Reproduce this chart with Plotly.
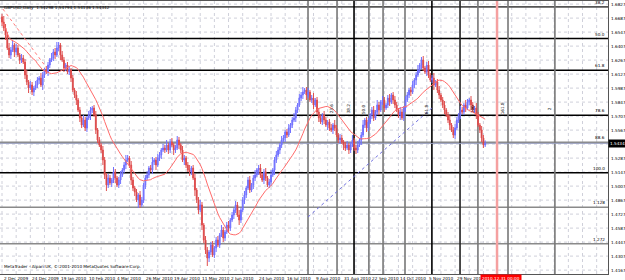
import plotly.graph_objects as go
import pandas as pd

header_text = "GBPUSD,Daily  1.54298 1.54794 1.54136 1.54342"
footer_text = "MetaTrader - Alpari UK, \u00a9 2001-2010 MetaQuotes Software Corp."

# daily closes in pips (price * 10000)
close_pips = [
    16648, 16588, 16518, 16388,
    16318, 16368, 16418, 16348, 16388,
    16318, 16268, 16288, 16248,
    16118, 16048, 15988, 16018, 15948, 15988,
    16018, 16068, 16088, 16018, 16118, 16168, 16148,
    16218, 16268, 16288, 16348, 16318, 16388, 16418,
    16318, 16268, 16188, 16218, 16148, 16168,
    16088, 15968, 15918, 15868, 15768, 15688,
    15618, 15668, 15588, 15688, 15718, 15768,
    15788, 15718, 15568, 15468, 15418,
    15368, 15268, 15118, 15018, 15088, 15038, 15068,
    15148, 15088, 15018, 15068, 15118, 15168, 15218, 15268,
    15288, 15218, 15068, 14988, 14948, 14868,
    14918, 14818, 14868, 15018, 15088,
    15118, 15188, 15168, 15248, 15268, 15218, 15288,
    15318, 15368, 15388, 15368, 15418, 15368, 15448,
    15418, 15368, 15388, 15468, 15418, 15368,
    15268, 15288, 15218, 15168, 15148, 15188, 15088,
    14968, 14868, 14768, 14818,
    14618, 14468, 14368, 14288, 14348, 14418,
    14318, 14388, 14468, 14418, 14518, 14568,
    14488, 14548, 14618, 14588, 14668, 14718, 14768,
    14818, 14718, 14668, 14768, 14868, 14918, 14988,
    15068, 14968, 15018, 15088, 15118, 15168,
    15188, 15118, 15068, 15148, 15088, 15018, 15048,
    15118, 15168, 15268, 15318, 15368, 15418,
    15468, 15488, 15548, 15518, 15588, 15618, 15668,
    15688, 15768, 15818, 15888, 15918, 15948,
    15968, 15918, 15948, 15868, 15888,
    15818, 15868, 15748, 15688, 15648, 15718,
    15668, 15618, 15648, 15588, 15568, 15618, 15588,
    15518, 15468, 15488, 15448, 15418, 15388, 15418,
    15368, 15418, 15468, 15388, 15368, 15418,
    15468, 15518, 15618, 15668, 15588, 15648,
    15718, 15768, 15688, 15748, 15818, 15768, 15848,
    15868, 15788, 15818, 15888, 15848, 15918, 15868,
    15818, 15768, 15718, 15748, 15688, 15788,
    15868, 15918, 15968, 15948, 16018, 16068,
    16118, 16168, 16218, 16268, 16188, 16148, 16218,
    16118, 16068, 16088, 16018, 16048, 15968,
    15918, 15868, 15818, 15768, 15718, 15668,
    15618, 15568, 15518, 15588, 15668,
    15718, 15768, 15748, 15818, 15788, 15848,
    15868, 15818, 15768, 15788, 15718,
    15618, 15568, 15488, 15418, 15434,
]
first_open_pips = 16700

# upper / lower wick lengths (units of 10 pips)
hi_wick = [
    3,6,4,3,5,3,4,2,4,3,2,4,3,3,5,2,4,3,2,4,
    3,2,5,3,2,4,3,2,5,3,4,6,3,2,4,3,2,3,4,2,
    3,2,4,2,3,2,5,3,2,4,3,2,3,4,2,3,2,4,3,2,
    4,3,2,5,3,2,3,4,2,3,5,3,2,4,3,2,3,2,4,3,
    2,3,4,2,3,5,2,3,4,3,2,4,3,5,2,3,4,2,3,4,
    3,2,4,3,2,3,5,2,3,4,2,3,5,3,2,4,3,2,3,4,
    2,3,4,2,5,3,2,3,4,2,3,2,4,3,5,2,3,4,2,3,
    4,2,3,5,2,3,4,2,3,4,2,3,5,2,3,4,3,2,4,3,
    2,3,4,2,3,5,3,2,4,3,5,2,3,4,2,3,5,2,3,4,
    3,2,4,3,2,3,4,2,5,3,2,4,3,2,3,4,2,3,5,2,
    3,4,2,3,5,2,3,4,2,3,4,2,5,3,2,4,3,2,3,4,
    2,3,4,3,2,5,3,2,4,3,2,3,4,2,3,5,2,3,4,2,
    3,4,2,3,5,2,3,4,2,3,4,2,3,5,2,3,4,3,2,4,
    3,2,5,3,2,4,3,2,5,3,2,4,3,3,2,3,
]
lo_wick = [
    4,3,5,2,3,4,2,5,3,2,4,3,2,4,3,5,2,3,4,2,
    3,4,2,5,3,2,4,3,2,3,4,2,3,5,2,4,3,2,3,4,
    2,3,5,2,4,3,2,3,4,2,5,3,2,4,3,2,3,5,4,6,
    3,2,4,3,5,2,3,4,2,3,4,2,3,5,3,4,2,8,3,2,
    3,4,2,3,2,4,3,5,2,3,4,2,3,2,4,3,2,5,3,2,
    4,3,2,5,3,2,4,3,2,6,3,4,2,5,3,4,8,4,3,2,
    3,4,2,3,2,4,3,2,5,3,2,4,3,2,5,3,2,4,3,2,
    3,2,4,3,2,5,3,2,4,3,2,3,4,2,5,3,2,4,3,2,
    4,3,2,5,3,2,4,3,2,3,4,2,5,3,2,3,4,2,3,4,
    2,3,4,2,5,3,2,4,3,2,3,4,2,5,3,2,4,3,2,3,
    4,3,2,5,2,3,4,3,2,4,3,2,3,5,2,3,4,2,3,4,
    2,4,3,2,3,5,2,3,4,2,3,4,2,3,5,2,3,4,3,2,
    4,3,2,3,5,2,3,4,2,3,4,2,3,5,2,3,4,2,3,4,
    2,3,4,2,3,5,2,3,4,2,3,4,3,2,3,2,
]

date_label_bars = [0, 16, 32, 48, 64, 80, 96, 112, 128, 144, 160, 176, 192, 208, 224, 240, 256]
date_labels = ["2 Dec 2009", "24 Dec 2009", "19 Jan 2010", "10 Feb 2010", "4 Mar 2010",
               "26 Mar 2010", "19 Apr 2010", "11 May 2010", "2 Jun 2010", "24 Jun 2010",
               "16 Jul 2010", "9 Aug 2010", "31 Aug 2010", "22 Sep 2010", "14 Oct 2010",
               "5 Nov 2010", "29 Nov 2010"]

price_labels = ["1.68270", "1.66870", "1.65470", "1.64070", "1.62670", "1.61270", "1.59870",
                "1.58470", "1.57070", "1.55670", "1.54270", "1.52870", "1.51470", "1.50070",
                "1.48670", "1.47270", "1.45870", "1.44470", "1.43070", "1.41670"]
last_price_label = "1.54342"

fib_labels = ["38.2", "50.0", "61.8", "78.6", "88.6", "100.0", "1.128", "1.272"]
fib_prices = [1.6799, 1.6483, 1.6166, 1.5715, 1.5446, 1.5140, 1.4796, 1.4430]
fib_colors = ["#555555", "#000000", "#000000", "#000000", "#8a8a8a", "#000000", "#8a8a8a", "#8a8a8a"]

vline_bars = [172.9, 189.3, 198.9, 207.3, 215.3, 227.7, 242.9, 258.8, 268.9, 285.9, 312.4]
vline_colors = ["#777777", "#777777", "#000000", "#777777", "#777777", "#777777",
                "#000000", "#222222", "#777777", "#777777", "#777777"]
vline_texts = ["", "23.6", "38.2", "50.0", "", "", "61.8", "", "100", "161.8", "2"]

cursor_bar = 279.7
cursor_label = "2010.12.31 00:00"
trend_bars = [172.9, 242.9]
trend_prices = [1.4698, 1.5788]
red_trend_bars = [0.5, 24.0]
red_trend_prices = [1.6778, 1.6218]

X_RANGE = [-1.13, 342.4]
Y_RANGE = [1.4128, 1.6858]

# ---------- build OHLC ----------
n = len(close_pips)
closes = [c / 10000 for c in close_pips]
opens = [first_open_pips / 10000] + closes[:-1]
highs = [max(o, c) + hi_wick[i] * 0.001 for i, (o, c) in enumerate(zip(opens, closes))]
lows = [min(o, c) - lo_wick[i] * 0.001 for i, (o, c) in enumerate(zip(opens, closes))]
bars = list(range(n))
ma = pd.Series(closes).rolling(20, min_periods=1).mean().tolist()

FONT = "DejaVu Sans"
SMALL = 4.2
GRID = "#cfd0da"
fig = go.Figure()

fig.add_trace(go.Candlestick(
    x=bars, open=opens, high=highs, low=lows, close=closes,
    increasing=dict(line=dict(color="#7070ff", width=1), fillcolor="#8080ff"),
    decreasing=dict(line=dict(color="#e05050", width=1), fillcolor="#a80000"),
    whiskerwidth=0, showlegend=False, hoverinfo="skip"))

fig.add_trace(go.Scatter(x=bars, y=ma, mode="lines",
                         line=dict(color="#ff6a6a", width=1), showlegend=False, hoverinfo="skip"))

fig.add_trace(go.Scatter(x=trend_bars, y=trend_prices, mode="lines",
                         line=dict(color="#7070e0", width=1, dash="dot"), showlegend=False, hoverinfo="skip"))
fig.add_trace(go.Scatter(x=red_trend_bars, y=red_trend_prices, mode="lines",
                         line=dict(color="#ff7a7a", width=1, dash="dot"), showlegend=False, hoverinfo="skip"))

shapes = []
# grid
for b in range(-8, 344, 8):
    shapes.append(dict(type="line", xref="x", yref="paper", x0=b, x1=b, y0=0, y1=1,
                       line=dict(color=GRID, width=1, dash="dot"), layer="below"))
for lbl in price_labels:
    p = float(lbl)
    shapes.append(dict(type="line", xref="paper", yref="y", x0=0, x1=1, y0=p, y1=p,
                       line=dict(color=GRID, width=1, dash="dot"), layer="below"))
# fib horizontal levels
for p, c in zip(fib_prices, fib_colors):
    shapes.append(dict(type="line", xref="paper", yref="y", x0=0, x1=1, y0=p, y1=p,
                       line=dict(color=c, width=1.6), layer="below"))
# vertical lines
for b, c in zip(vline_bars, vline_colors):
    shapes.append(dict(type="line", xref="x", yref="paper", x0=b, x1=b, y0=0, y1=1,
                       line=dict(color=c, width=1.6), layer="below"))
# last price line
lp = closes[-1]
shapes.append(dict(type="line", xref="paper", yref="y", x0=0, x1=1, y0=lp, y1=lp,
                   line=dict(color="#9aa0c0", width=1), layer="below"))
# cursor line
shapes.append(dict(type="line", xref="x", yref="paper", x0=cursor_bar, x1=cursor_bar, y0=0, y1=1,
                   line=dict(color="#f5a0a0", width=2.5)))

annotations = []
for b, t in zip(date_label_bars, date_labels):
    annotations.append(dict(x=b, y=0, xref="x", yref="paper", text=t, showarrow=False,
                            xanchor="left", yanchor="top", yshift=0,
                            font=dict(family=FONT, size=SMALL, color="#000")))
for t in price_labels:
    annotations.append(dict(x=1, y=float(t), xref="paper", yref="y", text=t, showarrow=False,
                            xanchor="left", yanchor="middle", xshift=1,
                            font=dict(family=FONT, size=SMALL, color="#000")))
for t, p in zip(fib_labels, fib_prices):
    annotations.append(dict(x=1, y=p, xref="paper", yref="y", text=t, showarrow=False,
                            xanchor="right", yanchor="bottom", xshift=-1,
                            font=dict(family=FONT, size=SMALL, color="#000")))
for b, t in zip(vline_bars, vline_texts):
    if t:
        annotations.append(dict(x=b, y=1.5780, xref="x", yref="y", text=t, showarrow=False,
                                textangle=-90, xanchor="right", yanchor="middle", xshift=-1,
                                font=dict(family=FONT, size=SMALL, color="#000")))
annotations.append(dict(x=1, y=lp, xref="paper", yref="y", text=last_price_label, showarrow=False,
                        xanchor="left", yanchor="middle", xshift=0, bgcolor="#000",
                        font=dict(family=FONT, size=SMALL, color="#fff"), borderpad=1))
annotations.append(dict(x=cursor_bar, y=0, xref="x", yref="paper", text=cursor_label, showarrow=False,
                        xanchor="center", yanchor="top", yshift=0, xshift=4, bgcolor="#ff0000",
                        font=dict(family=FONT, size=SMALL, color="#fff"), borderpad=1))
annotations.append(dict(x=0.004, y=1, xref="paper", yref="paper", text=header_text, showarrow=False,
                        xanchor="left", yanchor="top", yshift=-2,
                        font=dict(family=FONT, size=SMALL, color="#000")))
annotations.append(dict(x=0.004, y=0, xref="paper", yref="paper", text=footer_text, showarrow=False,
                        xanchor="left", yanchor="bottom", yshift=3,
                        font=dict(family=FONT, size=SMALL, color="#000")))

fig.update_layout(
    width=625, height=280,
    margin=dict(l=0, r=17, t=1, b=6),
    paper_bgcolor="#ffffff", plot_bgcolor="#ffffff",
    shapes=shapes, annotations=annotations,
    showlegend=False,
    xaxis=dict(range=X_RANGE, showgrid=False, zeroline=False, showticklabels=False,
               rangeslider=dict(visible=False), showline=True, linecolor="#555", mirror=True, ticks=""),
    yaxis=dict(range=Y_RANGE, showgrid=False, zeroline=False, showticklabels=False,
               showline=True, linecolor="#555", mirror=True, ticks=""),
)
fig.write_html("out.html")
